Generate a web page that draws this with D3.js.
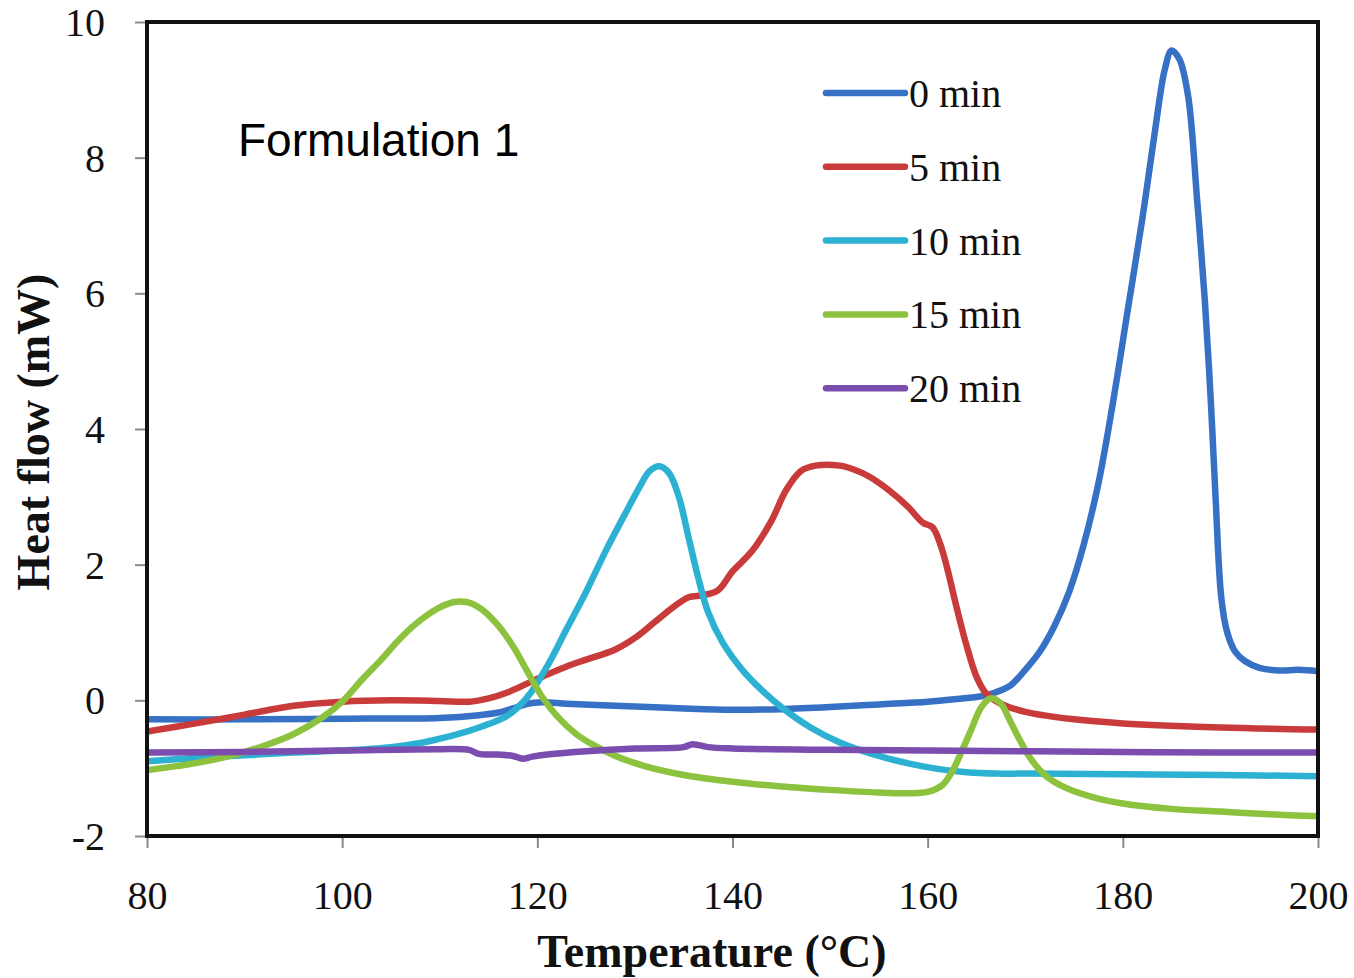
<!DOCTYPE html>
<html>
<head>
<meta charset="utf-8">
<script src="https://cdn.jsdelivr.net/npm/d3@7"></script>
<style>
  html, body { margin: 0; padding: 0; background: #fff; }
  svg { display: block; }
</style>
</head>
<body>
<svg id="chart" width="1354" height="978"></svg>
<script>
// ---------- data ----------
const seriesNames = ["0 min", "5 min", "10 min", "15 min", "20 min"];
const seriesColors = ["#3671C6", "#C93B3A", "#2DB1D3", "#8DC23F", "#7A4DAE"];

const temp0 = [80, 90, 100, 110, 114, 116, 117.5, 119, 120.5, 123, 126, 130, 135, 140, 145, 150, 155, 160, 163, 165.5, 167, 168.5, 170, 171.5, 173, 174.5, 176, 177.5, 179, 180.5, 182, 183.3, 184.3, 185, 185.8, 186.7, 187.6, 188.4, 189, 189.5, 190.1, 190.7, 191.5, 192.5, 194, 196, 198, 200];
const flow0 = [-0.28, -0.28, -0.27, -0.26, -0.22, -0.18, -0.12, -0.05, -0.03, -0.05, -0.07, -0.09, -0.12, -0.14, -0.13, -0.1, -0.06, -0.02, 0.02, 0.06, 0.12, 0.22, 0.45, 0.72, 1.1, 1.6, 2.3, 3.2, 4.4, 5.75, 7.1, 8.4, 9.3, 9.58, 9.45, 8.9, 7.4, 5.9, 4.45, 3.0, 1.5, 1.0, 0.72, 0.58, 0.48, 0.44, 0.45, 0.43];

const temp5 = [80, 85, 90, 95, 100, 105, 110, 113, 115, 117, 119, 121, 123, 125, 128, 130, 132, 134, 135.5, 137, 138.5, 140, 142, 144, 145.5, 147, 148.5, 151, 152.5, 154, 156, 158, 159.5, 160.5, 161.3, 162, 163, 164, 165, 166, 167.5, 170, 175, 180, 190, 200];
const flow5 = [-0.46, -0.34, -0.21, -0.08, -0.02, 0, -0.01, -0.02, 0.03, 0.12, 0.25, 0.38, 0.5, 0.6, 0.75, 0.92, 1.15, 1.38, 1.52, 1.55, 1.62, 1.9, 2.2, 2.65, 3.1, 3.38, 3.46, 3.46, 3.4, 3.3, 3.1, 2.85, 2.62, 2.55, 2.3, 1.95, 1.35, 0.8, 0.35, 0.1, -0.05, -0.17, -0.28, -0.34, -0.4, -0.43];

const temp10 = [80, 85, 90, 95, 100, 105, 108, 111, 113, 115, 117, 119, 121, 123, 125, 127, 129, 130.5, 131.5, 132.5, 133.5, 134.5, 135.5, 136.5, 137.5, 139, 141, 143, 145, 148, 151, 155, 158, 161, 164, 167, 170, 180, 190, 200];
const flow10 = [-0.9, -0.85, -0.81, -0.77, -0.74, -0.69, -0.63, -0.53, -0.45, -0.35, -0.22, 0.05, 0.5, 1.05, 1.6, 2.2, 2.75, 3.15, 3.38, 3.45, 3.35, 3.0, 2.4, 1.8, 1.3, 0.85, 0.45, 0.15, -0.1, -0.4, -0.62, -0.82, -0.93, -1.01, -1.06, -1.08, -1.08, -1.09, -1.1, -1.12];

const temp15 = [80, 83, 86, 89, 92, 95, 98, 100, 102, 104, 106, 108, 110, 111.5, 113, 114.5, 116, 117.5, 119, 120.5, 122, 124, 126, 128, 131, 135, 140, 145, 150, 155, 158, 160, 161.5, 162.5, 163.5, 164.5, 165.5, 166.5, 167.5, 168.5, 169.5, 170.5, 172, 174, 177, 180, 185, 190, 195, 200];
const flow15 = [-1.03, -0.97, -0.9, -0.8, -0.67, -0.5, -0.25, -0.02, 0.3, 0.6, 0.92, 1.18, 1.37, 1.45, 1.44, 1.32, 1.1, 0.8, 0.42, 0.05, -0.23, -0.5, -0.68, -0.82, -0.97, -1.1, -1.2, -1.27, -1.32, -1.36, -1.37, -1.35, -1.25, -1.05, -0.75, -0.42, -0.1, 0.03, -0.05, -0.32, -0.6, -0.85, -1.1, -1.28, -1.43, -1.52, -1.6, -1.64, -1.68, -1.71];

const temp20 = [80, 90, 100, 110, 113, 114, 116, 117.5, 118.5, 119.5, 121, 125, 130, 135, 135.8, 136.5, 137.5, 140, 150, 160, 170, 180, 190, 200];
const flow20 = [-0.77, -0.76, -0.74, -0.72, -0.73, -0.79, -0.8, -0.82, -0.86, -0.83, -0.8, -0.75, -0.71, -0.69, -0.65, -0.66, -0.69, -0.71, -0.73, -0.74, -0.75, -0.76, -0.77, -0.77];

const xTicks = [80, 100, 120, 140, 160, 180, 200];
const yTicks = [-2, 0, 2, 4, 6, 8, 10];

const chartTitle = "Formulation 1";
const xTitle = "Temperature (\u00B0C)";
const yTitle = "Heat flow (mW)";

// ---------- layout ----------
const svg = d3.select("#chart");
const plot = { left: 147, right: 1318, top: 22, bottom: 836 };

const x = d3.scaleLinear().domain([80, 200]).range([plot.left, plot.right]);
const y = d3.scaleLinear().domain([-2, 10]).range([plot.bottom, plot.top]);

const serif = "'Liberation Serif', 'DejaVu Serif', serif";
const plainNum = d => String(d);

svg.append("defs").append("clipPath").attr("id", "clip")
  .append("rect")
  .attr("x", plot.left).attr("y", plot.top)
  .attr("width", plot.right - plot.left).attr("height", plot.bottom - plot.top);

// axes (ticks + labels)
const xAxis = d3.axisBottom(x).tickValues(xTicks).tickSize(12).tickPadding(33).tickFormat(plainNum);
const yAxis = d3.axisLeft(y).tickValues(yTicks).tickSize(12).tickPadding(30).tickFormat(plainNum);

const gx = svg.append("g").attr("transform", `translate(0,${plot.bottom})`).call(xAxis);
const gy = svg.append("g").attr("transform", `translate(${plot.left},0)`).call(yAxis);

[gx, gy].forEach(g => {
  g.select(".domain").remove();
  g.selectAll(".tick line").attr("stroke", "#8a8a8a").attr("stroke-width", 2);
  g.selectAll(".tick text")
    .attr("font-family", serif)
    .attr("font-size", 40)
    .attr("fill", "#111");
});
gx.selectAll(".tick text").attr("dy", "0.71em");
gy.selectAll(".tick text").attr("dy", "0.34em");

// series
const tempArrays = [temp0, temp5, temp10, temp15, temp20];
const flowArrays = [flow0, flow5, flow10, flow15, flow20];

const line = d3.line()
  .x(d => x(d[0]))
  .y(d => y(d[1]))
  .curve(d3.curveCatmullRom.alpha(0.5));

const gLines = svg.append("g").attr("clip-path", "url(#clip)");
seriesNames.forEach((name, i) => {
  const pts = tempArrays[i].map((t, j) => [t, flowArrays[i][j]]);
  gLines.append("path")
    .datum(pts)
    .attr("d", line)
    .attr("fill", "none")
    .attr("stroke", seriesColors[i])
    .attr("stroke-width", 6.5)
    .attr("stroke-linejoin", "round")
    .attr("stroke-linecap", "round");
});

// frame
svg.append("rect")
  .attr("x", plot.left).attr("y", plot.top)
  .attr("width", plot.right - plot.left).attr("height", plot.bottom - plot.top)
  .attr("fill", "none")
  .attr("stroke", "#111")
  .attr("stroke-width", 4);

// legend
const legend = svg.append("g");
seriesNames.forEach((name, i) => {
  const ly = 93 + i * 73.8;
  legend.append("line")
    .attr("x1", 826).attr("x2", 905)
    .attr("y1", ly).attr("y2", ly)
    .attr("stroke", seriesColors[i])
    .attr("stroke-width", 6.5)
    .attr("stroke-linecap", "round");
  legend.append("text")
    .attr("x", 909).attr("y", ly + 14)
    .attr("font-family", serif)
    .attr("font-size", 40)
    .attr("fill", "#111")
    .text(name);
});

// chart label
svg.append("text")
  .attr("x", 238).attr("y", 156)
  .attr("font-family", "'Liberation Sans', Arial, sans-serif")
  .attr("font-size", 46)
  .attr("fill", "#000")
  .text(chartTitle);

// axis titles
svg.append("text")
  .attr("x", 712).attr("y", 967)
  .attr("text-anchor", "middle")
  .attr("font-family", serif)
  .attr("font-weight", "bold")
  .attr("font-size", 46)
  .attr("fill", "#111")
  .text(xTitle);

svg.append("text")
  .attr("transform", "translate(49,432) rotate(-90)")
  .attr("text-anchor", "middle")
  .attr("font-family", serif)
  .attr("font-weight", "bold")
  .attr("font-size", 46)
  .attr("fill", "#111")
  .text(yTitle);
</script>
</body>
</html>
